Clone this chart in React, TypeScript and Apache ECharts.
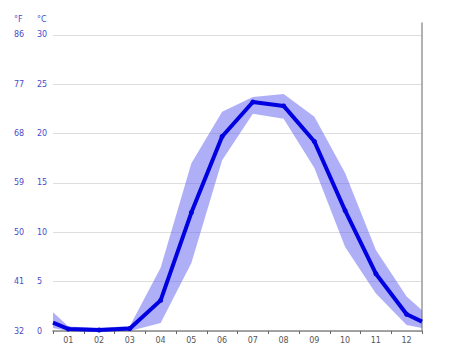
import React, { useEffect, useRef } from "react";
import * as echarts from "echarts";

const months = ["01", "02", "03", "04", "05", "06", "07", "08", "09", "10", "11", "12"];
const meanTemp = [0.2, 0.1, 0.25, 3.1, 12.0, 19.7, 23.2, 22.8, 19.2, 12.2, 5.8, 1.7];
const maxTemp = [0.45, 0.3, 0.5, 6.4, 17.0, 22.2, 23.7, 24.0, 21.7, 16.0, 8.2, 3.5];
const minTemp = [0, 0, 0, 0.8, 6.9, 17.3, 22.0, 21.5, 16.5, 8.5, 3.8, 0.6];
// values at the left and right edges of the chart (year wrap-around)
const edgeStart = { mean: 0.85, max: 1.9, min: 0.3 };
const edgeEnd = { mean: 0.95, max: 2.1, min: 0.3 };
const celsiusTicks = [0, 5, 10, 15, 20, 25, 30];
const fahrenheitTicks = [32, 41, 50, 59, 68, 77, 86];

const C_MAX = 31.2;

function build(vals: number[], s: number, e: number): [number, number][] {
  const out: [number, number][] = [[0, s]];
  vals.forEach((v, i) => out.push([i + 0.5, v]));
  out.push([months.length, e]);
  return out;
}

export default function App() {
  const ref = useRef<HTMLDivElement>(null);
  useEffect(() => {
    if (!ref.current) return;
    const chart = echarts.init(ref.current, null, { renderer: "svg" });
    const lower = build(minTemp, edgeStart.min, edgeEnd.min);
    const upper = build(maxTemp, edgeStart.max, edgeEnd.max);
    const bandData = upper.map((p, i) => [p[0], p[1], lower[i][1]]);
    const meanPts = build(meanTemp, edgeStart.mean, edgeEnd.mean).map((p, i, arr) =>
      i === 0 || i === arr.length - 1 ? { value: p, symbolSize: 0 } : { value: p }
    );
    const labelColor = "#4a4acb";
    chart.setOption({
      animation: false,
      textStyle: { fontFamily: "DejaVu Sans" },
      grid: { left: 53, right: 52, top: 23, bottom: 24 },
      graphic: [
        { type: "text", left: 14, top: 15, style: { text: "°F", fontSize: 8, fill: labelColor, fontFamily: "DejaVu Sans" } },
        { type: "text", left: 37, top: 15, style: { text: "°C", fontSize: 8, fill: labelColor, fontFamily: "DejaVu Sans" } },
      ],
      xAxis: [
        {
          type: "value",
          min: 0,
          max: months.length,
          interval: 1,
          axisLine: { show: true, lineStyle: { color: "#888", width: 1.5 } },
          axisTick: { show: true, length: 3, lineStyle: { color: "#666" } },
          axisLabel: { show: false },
          splitLine: { show: false },
        },
        {
          type: "category",
          data: months,
          boundaryGap: true,
          position: "bottom",
          axisLine: { show: false },
          axisTick: { show: false },
          axisLabel: { fontSize: 8, color: "#555", margin: 5 },
          splitLine: { show: false },
        },
      ],
      yAxis: [
        {
          type: "value",
          min: celsiusTicks[0],
          max: C_MAX,
          interval: 5,
          position: "left",
          axisLine: { show: false },
          axisTick: { show: false },
          axisLabel: {
            fontSize: 8,
            color: labelColor,
            align: "left",
            margin: 16,
            showMaxLabel: false,
            formatter: (v: number) => (celsiusTicks.includes(v) ? String(v) : ""),
          },
          splitLine: { show: true, showMaxLine: false, lineStyle: { color: "#dedede", width: 1 } },
        },
        {
          type: "value",
          min: fahrenheitTicks[0],
          max: fahrenheitTicks[0] + C_MAX * 1.8,
          interval: 9,
          position: "left",
          axisLine: { show: false },
          axisTick: { show: false },
          axisLabel: {
            fontSize: 8,
            color: labelColor,
            align: "left",
            margin: 39,
            showMaxLabel: false,
            formatter: (v: number) => (fahrenheitTicks.includes(v) ? String(v) : ""),
          },
          splitLine: { show: false },
        },
        {
          type: "value",
          min: 0,
          max: C_MAX,
          position: "right",
          axisLine: { show: true, lineStyle: { color: "#999", width: 1.5 } },
          axisTick: { show: false },
          axisLabel: { show: false },
          splitLine: { show: false },
        },
      ],
      series: [
        {
          type: "custom",
          data: bandData,
          silent: true,
          z: 2,
          renderItem: (params: any, api: any) => {
            if (params.dataIndex !== 0) return null;
            const top = bandData.map((d) => api.coord([d[0], d[1]]));
            const bot = bandData.map((d) => api.coord([d[0], d[2]])).reverse();
            return {
              type: "polygon",
              shape: { points: top.concat(bot) },
              style: { fill: "rgba(96,96,242,0.5)", stroke: "none" },
            };
          },
        },
        {
          type: "line",
          data: meanPts,
          symbol: "circle",
          symbolSize: 5,
          itemStyle: { color: "#0000e0" },
          lineStyle: { color: "#0000e0", width: 4 },
          z: 5,
        },
      ],
    });
    return () => chart.dispose();
  }, []);
  return <div ref={ref} style={{ width: 474, height: 355, margin: -8 }} />;
}
